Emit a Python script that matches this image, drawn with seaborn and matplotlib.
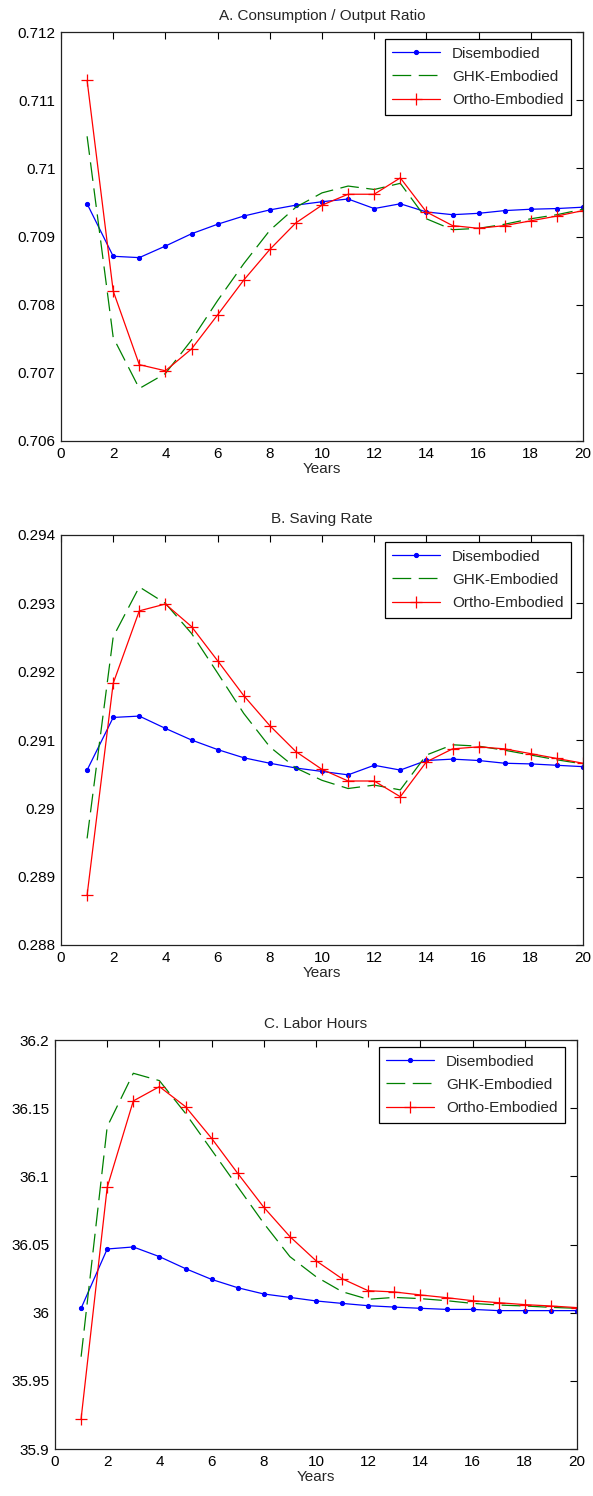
import numpy as np
import seaborn as sns
import matplotlib
matplotlib.use('Agg')
import matplotlib.pyplot as plt
from matplotlib.ticker import FormatStrFormatter

years = list(range(1, 21))
labels = ['Disembodied', 'GHK-Embodied', 'Ortho-Embodied']

# A. consumption / output ratio
cy_dis = [0.70948, 0.70871, 0.70869, 0.70886, 0.70904, 0.70918, 0.70930, 0.70939, 0.70946, 0.70951,
          0.70955, 0.70941, 0.70948, 0.70936, 0.70932, 0.70934, 0.70938, 0.70940, 0.70941, 0.70943]
cy_ghk = [0.71047, 0.70752, 0.70677, 0.70699, 0.70748, 0.70806, 0.70860, 0.70909, 0.70943, 0.70964,
          0.70974, 0.70969, 0.70978, 0.70926, 0.70910, 0.70912, 0.70918, 0.70926, 0.70932, 0.70940]
cy_ortho = [0.71129, 0.70820, 0.70712, 0.70703, 0.70735, 0.70785, 0.70836, 0.70881, 0.70920, 0.70946,
            0.70962, 0.70962, 0.70986, 0.70936, 0.70916, 0.70912, 0.70916, 0.70923, 0.70930, 0.70938]

# B. saving rate
sr_dis = [0.29056, 0.29133, 0.29135, 0.29117, 0.29100, 0.29086, 0.29074, 0.29066, 0.29059, 0.29054,
          0.29049, 0.29063, 0.29056, 0.29070, 0.29072, 0.29070, 0.29066, 0.29065, 0.29063, 0.29061]
sr_ghk = [0.28956, 0.29251, 0.29324, 0.29300, 0.29256, 0.29198, 0.29139, 0.29090, 0.29059, 0.29041,
          0.29029, 0.29034, 0.29027, 0.29078, 0.29093, 0.29091, 0.29085, 0.29078, 0.29071, 0.29065]
sr_ortho = [0.28873, 0.29183, 0.29289, 0.29299, 0.29266, 0.29216, 0.29165, 0.29121, 0.29083, 0.29057,
            0.29040, 0.29040, 0.29017, 0.29068, 0.29087, 0.29090, 0.29087, 0.29080, 0.29073, 0.29066]

# C. labor hours
lh_dis = [36.0032, 36.0467, 36.0482, 36.0411, 36.0323, 36.0244, 36.0183, 36.0137, 36.0112, 36.0086,
          36.0068, 36.0051, 36.0041, 36.0032, 36.0024, 36.0024, 36.0015, 36.0015, 36.0015, 36.0015]
lh_ghk = [35.9677, 36.1364, 36.1756, 36.1702, 36.1462, 36.1193, 36.0924, 36.0655, 36.0411, 36.0264,
          36.0154, 36.0098, 36.0112, 36.0103, 36.0088, 36.0068, 36.0056, 36.0049, 36.0039, 36.0032]
lh_ortho = [35.9222, 36.0919, 36.1553, 36.1658, 36.1511, 36.1279, 36.1022, 36.0773, 36.0558, 36.0381,
            36.0249, 36.0161, 36.0152, 36.0130, 36.0110, 36.0088, 36.0073, 36.0059, 36.0049, 36.0037]

sns.set_style('white')
plt.rcParams['font.family'] = ['Liberation Sans', 'DejaVu Sans']
plt.rcParams['font.size'] = 11

W, H = 593, 1496
fig = plt.figure(figsize=(W / 100, H / 100), dpi=100)

panels = [
    ('A. Consumption / Output Ratio', cy_dis, cy_ghk, cy_ortho, (0.706, 0.712), np.arange(0.706, 0.71201, 0.001), (61, 583, 32, 441)),
    ('B. Saving Rate', sr_dis, sr_ghk, sr_ortho, (0.288, 0.294), np.arange(0.288, 0.29401, 0.001), (61, 583, 535, 945)),
    ('C. Labor Hours', lh_dis, lh_ghk, lh_ortho, (35.9, 36.2), np.arange(35.9, 36.2001, 0.05), (55, 577, 1040, 1449)),
]

for title, dis, ghk, ortho, ylim, yticks, (l, r, t, b) in panels:
    ax = fig.add_axes([l / W, 1 - b / H, (r - l) / W, (b - t) / H])
    sns.lineplot(x=years, y=dis, ax=ax, color='#0000ff', marker='.', markersize=6,
                 markeredgecolor='#0000ff', linewidth=0.9, label=labels[0])
    sns.lineplot(x=years, y=ghk, ax=ax, color='#008000', linestyle=(0, (15, 6)),
                 linewidth=0.9, label=labels[1])
    sns.lineplot(x=years, y=ortho, ax=ax, color='#ff0000', marker='+', markersize=9,
                 markeredgecolor='#ff0000', markeredgewidth=0.9, linewidth=0.9, label=labels[2])
    ax.set_xlim(0, 20)
    ax.set_ylim(*ylim)
    ax.set_xticks(range(0, 21, 2))
    ax.set_yticks(yticks)
    ax.yaxis.set_major_formatter(FormatStrFormatter('%g'))
    ax.tick_params(direction='in', top=True, right=True, length=5, width=0.8,
                   labelsize=11, pad=4, colors='black')
    for s in ax.spines.values():
        s.set_color('#222222')
        s.set_linewidth(0.9)
    ax.set_title(title, fontsize=11, pad=9)
    ax.set_xlabel('Years', fontsize=11, labelpad=1)
    ax.set_ylabel('')
    ax.legend(loc='upper right', bbox_to_anchor=(1 - 12 / 522, 1 - 7 / 409), borderaxespad=0,
              fancybox=False, edgecolor='black', framealpha=1, fontsize=11,
              handlelength=3.1, labelspacing=0.6, borderpad=0.5)
    ax.get_legend().get_frame().set_linewidth(0.9)

fig.savefig('out.png', dpi=100)
